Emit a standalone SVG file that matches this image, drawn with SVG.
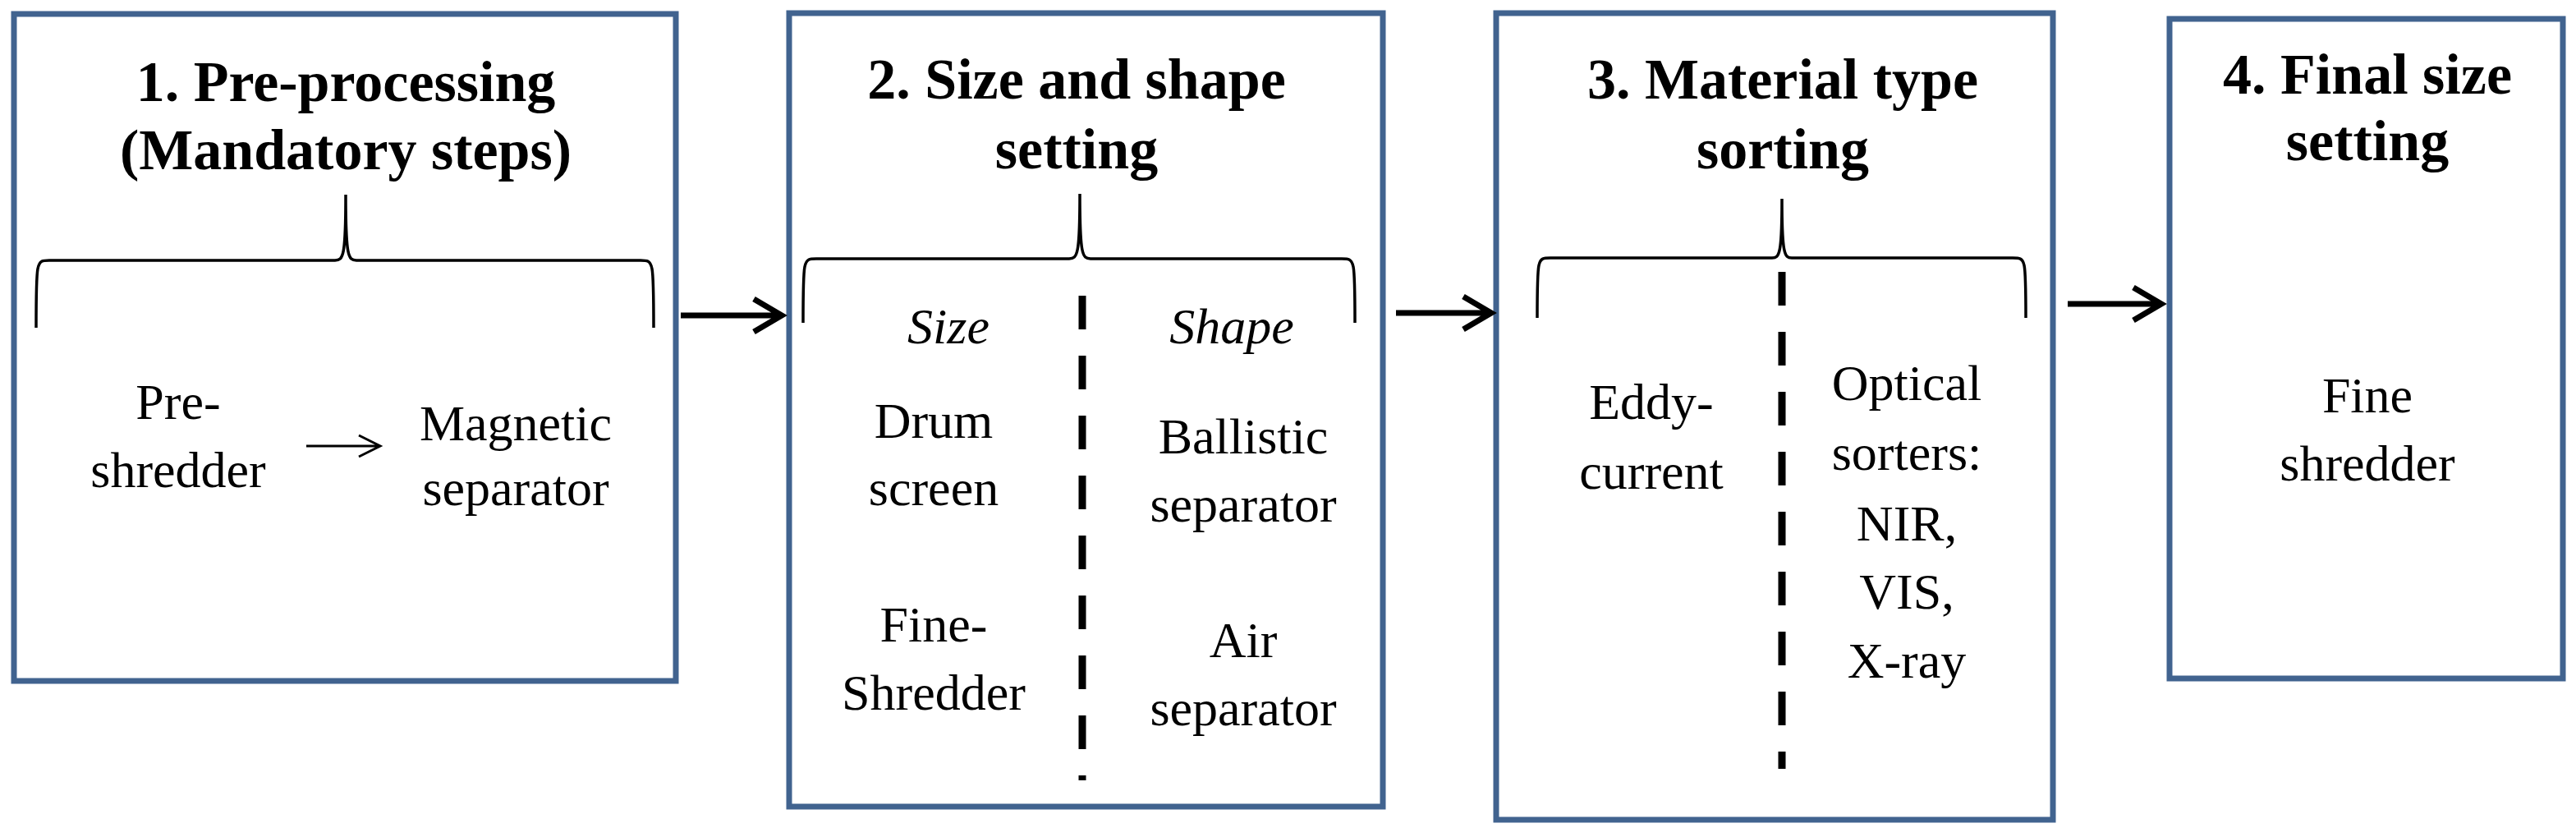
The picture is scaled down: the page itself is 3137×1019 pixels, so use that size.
<svg xmlns="http://www.w3.org/2000/svg" width="3137" height="1019" viewBox="0 0 3137 1019">
<style>
.box{fill:#fff;stroke:#41638f;stroke-width:7}
.t{font-family:"Liberation Serif",serif;font-size:70px;font-weight:bold;text-anchor:middle;fill:#000}
.b{font-family:"Liberation Serif",serif;font-size:62px;text-anchor:middle;fill:#000}
.i{font-style:italic}
.br{fill:none;stroke:#000;stroke-width:3.5}
.dash{stroke:#000;stroke-width:9;stroke-dasharray:41 32}
.ar{fill:none;stroke:#000;stroke-width:7}
</style>
<rect width="3137" height="1019" fill="#fff"/>
<g id="node1">
<rect class="box" x="17" y="17" width="806" height="812"/>
<text class="t" x="421" y="123">1. Pre-processing</text>
<text class="t" x="421" y="206">(Mandatory steps)</text>
<path class="br" d="M44,399 C44,317 44,317 60,317 L408,317 C418,317 421,312 421,237 C421,312 424,317 434,317 L780,317 C796,317 796,317 796,399"/>
<text class="b" x="217" y="510">Pre-</text>
<text class="b" x="217" y="593">shredder</text>
<text class="b" x="628" y="536">Magnetic</text>
<text class="b" x="628" y="615">separator</text>
<path class="ar" style="stroke-width:3" d="M373,543 L463,543 M437,530 L463,543 L437,556"/>
</g>
<g id="node2">
<rect class="box" x="961" y="16" width="723" height="966"/>
<text class="t" x="1311" y="120">2. Size and shape</text>
<text class="t" x="1311" y="205">setting</text>
<path class="br" d="M978,393 C978,315 978,315 994,315 L1302,315 C1312,315 1315,310 1315,236 C1315,310 1318,315 1328,315 L1634,315 C1650,315 1650,315 1650,393"/>
<line class="dash" x1="1318" y1="360" x2="1318" y2="950"/>
<text class="b i" x="1155" y="418">Size</text>
<text class="b i" x="1500" y="418">Shape</text>
<text class="b" x="1137" y="533">Drum</text>
<text class="b" x="1137" y="615">screen</text>
<text class="b" x="1514" y="552">Ballistic</text>
<text class="b" x="1514" y="635">separator</text>
<text class="b" x="1137" y="781">Fine-</text>
<text class="b" x="1137" y="864">Shredder</text>
<text class="b" x="1514" y="800">Air</text>
<text class="b" x="1514" y="883">separator</text>
</g>
<g id="node3">
<rect class="box" x="1822" y="16" width="678" height="982"/>
<text class="t" x="2171" y="120">3. Material type</text>
<text class="t" x="2171" y="205">sorting</text>
<path class="br" d="M1872,387 C1872,314 1872,314 1888,314 L2158,314 C2167,314 2170,309 2170,242 C2170,309 2173,314 2182,314 L2451,314 C2467,314 2467,314 2467,387"/>
<line class="dash" x1="2170" y1="331" x2="2170" y2="936"/>
<text class="b" x="2011" y="510">Eddy-</text>
<text class="b" x="2011" y="595">current</text>
<text class="b" x="2322" y="487">Optical</text>
<text class="b" x="2322" y="572">sorters:</text>
<text class="b" x="2322" y="658">NIR,</text>
<text class="b" x="2322" y="741">VIS,</text>
<text class="b" x="2322" y="825">X-ray</text>
</g>
<g id="node4">
<rect class="box" x="2642" y="23" width="479" height="803"/>
<text class="t" x="2883" y="114">4. Final size</text>
<text class="t" x="2883" y="195">setting</text>
<text class="b" x="2883" y="502">Fine</text>
<text class="b" x="2883" y="585">shredder</text>
</g>
<g id="connectors">
<path class="ar" d="M829,384 L950,384 M918,364 L952,384 L918,404"/>
<path class="ar" d="M1700,381 L1814,381 M1782,361 L1816,381 L1782,401"/>
<path class="ar" d="M2518,370 L2630,370 M2598,350 L2632,370 L2598,390"/>
</g>
</svg>
